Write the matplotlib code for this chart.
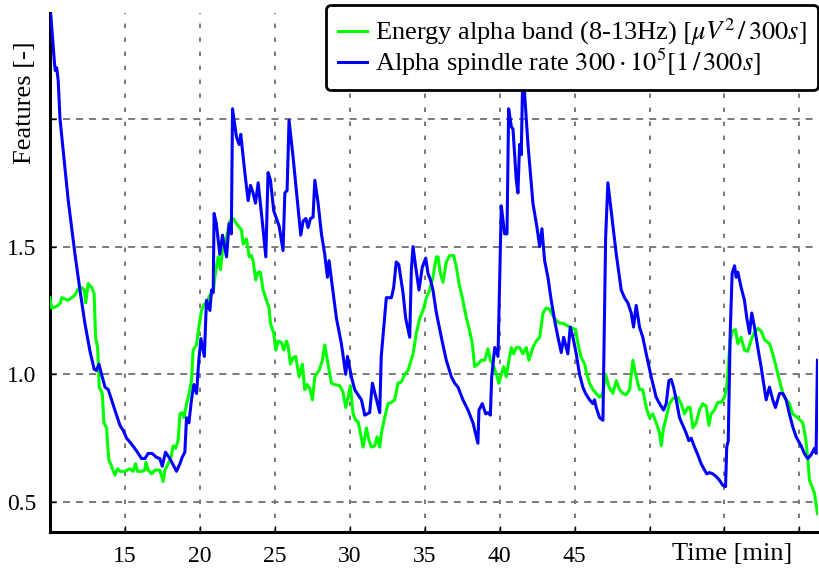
#!/usr/bin/env python3

import matplotlib
matplotlib.use("Agg")
import matplotlib.pyplot as plt

################################################################################
# Data
################################################################################

# Alpha spindle rate (blue), time in minutes
spindle_t = [
    10.0, 10.3, 10.35, 10.45, 10.55, 10.67, 11.22, 11.67, 12.0, 12.33, 12.67,
    12.95, 13.1, 13.27, 13.44, 13.67, 13.89, 14.33, 14.67, 14.89, 15.11, 15.4,
    15.78, 16.11, 16.33, 16.55, 16.82, 17.1, 17.33, 17.49, 17.71, 18.0, 18.44,
    18.67, 18.82, 19.0, 19.11, 19.27, 19.44, 19.6, 19.78, 19.93, 20.07, 20.3,
    20.44, 20.67, 20.78, 20.89, 20.95, 21.1, 21.33, 21.51, 21.78, 21.95, 22.1,
    22.18, 22.44, 22.62, 22.73, 23.0, 23.22, 23.38, 23.55, 23.71, 23.89, 24.18,
    24.4, 24.55, 24.71, 24.93, 25.11, 25.29, 25.55, 25.67, 25.82, 25.95, 26.22,
    26.55, 26.73, 26.89, 27.07, 27.22, 27.38, 27.55, 27.67, 27.89, 28.11, 28.33,
    28.51, 28.62, 28.78, 29.11, 29.44, 29.73, 29.85, 30.11, 30.33, 30.55, 30.78,
    31.0, 31.33, 31.51, 32.0, 32.1, 32.44, 32.78, 32.93, 33.1, 33.27, 33.55,
    33.73, 34.0, 34.11, 34.22, 34.4, 34.62, 34.84, 35.07, 35.22, 35.38, 35.55,
    35.78, 36.11, 36.44, 36.78, 37.0, 37.22, 37.55, 37.89, 38.22, 38.55, 38.62,
    38.84, 39.07, 39.22, 39.38, 39.47, 39.67, 39.89, 40.11, 40.33, 40.49, 40.6,
    40.78, 40.89, 41.11, 41.22, 41.33, 41.44, 41.55, 41.89, 42.22, 42.49, 42.67,
    42.82, 43.0, 43.22, 43.44, 43.67, 43.89, 44.11, 44.27, 44.55, 44.71, 44.89,
    45.11, 45.33, 45.55, 45.73, 46.0, 46.22, 46.33, 46.44, 46.67, 46.89, 47.07,
    47.22, 47.44, 47.78, 48.11, 48.33, 48.55, 48.78, 48.93, 49.11, 49.33, 49.55,
    49.78, 50.11, 50.44, 50.67, 50.93, 51.11, 51.29, 51.44, 51.6, 51.78, 52.0,
    52.22, 52.44, 52.62, 52.78, 53.0, 53.22, 53.44, 53.67, 53.82, 54.0, 54.22,
    54.44, 54.67, 54.89, 55.07, 55.15, 55.25, 55.38, 55.51, 55.67, 55.78, 55.89,
    56.11, 56.33, 56.49, 56.67, 56.82, 57.0, 57.22, 57.44, 57.78, 58.0, 58.22,
    58.4, 58.67, 58.89, 59.11, 59.33, 59.55, 59.78, 60.11, 60.33, 60.55, 60.78,
    61.0, 61.11, 61.2,
]
spindle_rate = [
    2.45, 2.22, 2.19, 2.20, 2.15, 2.0, 1.68, 1.47, 1.33, 1.20, 1.09,
    1.02, 1.015, 1.04, 1.0, 0.95, 0.94, 0.86, 0.80, 0.78, 0.75, 0.73,
    0.70, 0.67, 0.67, 0.69, 0.69, 0.675, 0.67, 0.64, 0.695, 0.67, 0.62,
    0.65, 0.675, 0.695, 0.83, 0.81, 0.90, 0.96, 0.925, 1.055, 1.14, 1.07,
    1.29, 1.25, 1.33, 1.32, 1.63, 1.59, 1.47, 1.545, 1.46, 1.59, 1.55,
    2.04, 1.93, 1.90, 1.94, 1.79, 1.68, 1.74, 1.71, 1.67, 1.75, 1.59,
    1.46, 1.79, 1.76, 1.64, 1.61, 1.58, 1.485, 1.71, 1.72, 1.995, 1.85,
    1.655, 1.545, 1.60, 1.61, 1.575, 1.61, 1.615, 1.76, 1.67, 1.55, 1.47,
    1.38, 1.445, 1.37, 1.22, 1.12, 1.0, 1.07, 0.99, 0.94, 0.92, 0.90,
    0.84, 0.85, 0.965, 0.85, 1.07, 1.30, 1.30, 1.34, 1.44, 1.43, 1.32,
    1.22, 1.145, 1.41, 1.50, 1.42, 1.33, 1.42, 1.455, 1.395, 1.37, 1.33,
    1.24, 1.145, 1.055, 0.99, 0.965, 0.95, 0.90, 0.86, 0.81, 0.73, 0.86,
    0.885, 0.845, 0.85, 0.84, 0.99, 1.105, 1.07, 1.66, 1.55, 1.55, 2.04,
    1.97, 1.96, 1.76, 1.71, 1.90, 1.86, 2.20, 1.90, 1.67, 1.575, 1.50,
    1.57, 1.445, 1.38, 1.29, 1.21, 1.145, 1.085, 1.145, 1.08, 1.185, 1.145,
    1.08, 1.0, 0.95, 0.925, 0.90, 0.885, 0.90, 0.87, 0.83, 0.82, 1.535,
    1.75, 1.64, 1.47, 1.33, 1.30, 1.28, 1.24, 1.185, 1.27, 1.185, 1.145,
    1.08, 0.99, 0.91, 0.885, 0.86, 0.885, 0.975, 0.98, 0.95, 0.90, 0.83,
    0.80, 0.77, 0.74, 0.75, 0.715, 0.685, 0.65, 0.625, 0.61, 0.615, 0.61,
    0.60, 0.585, 0.565, 0.56, 0.715, 0.74, 1.16, 1.395, 1.425, 1.38, 1.40,
    1.34, 1.29, 1.22, 1.16, 1.24, 1.185, 1.105, 1.03, 0.90, 0.95, 0.90,
    0.87, 0.925, 0.925, 0.90, 0.845, 0.795, 0.755, 0.72, 0.69, 0.67, 0.685,
    0.71, 0.69, 1.055,
]

# Energy in the alpha band (green), time in minutes
energy_t = [
    10.0, 10.1, 10.22, 10.55, 10.7, 10.78, 11.22, 11.44, 11.67, 11.89, 12.11,
    12.29, 12.38, 12.55, 12.78, 12.95, 13.04, 13.18, 13.29, 13.49, 13.6, 13.78,
    13.84, 13.93, 14.11, 14.33, 14.51, 14.67, 15.0, 15.33, 15.55, 15.71, 15.84,
    16.11, 16.33, 16.4, 16.55, 16.78, 17.0, 17.33, 17.55, 17.67, 17.89, 18.07,
    18.22, 18.38, 18.55, 18.67, 18.82, 18.95, 19.11, 19.27, 19.44, 19.55, 19.78,
    19.93, 20.11, 20.29, 20.44, 20.67, 20.89, 21.0, 21.22, 21.38, 21.51, 21.67,
    21.82, 22.0, 22.22, 22.44, 22.78, 22.89, 23.11, 23.29, 23.44, 23.55, 23.73,
    23.89, 24.04, 24.22, 24.44, 24.62, 24.71, 24.93, 25.07, 25.22, 25.44, 25.6,
    25.78, 25.89, 26.04, 26.22, 26.4, 26.62, 26.84, 27.0, 27.16, 27.33, 27.51,
    27.67, 27.95, 28.18, 28.33, 28.55, 28.78, 29.0, 29.33, 29.55, 29.73, 29.89,
    30.04, 30.22, 30.4, 30.55, 30.78, 30.89, 31.11, 31.29, 31.44, 31.67, 31.82,
    32.0, 32.11, 32.33, 32.55, 32.78, 33.0, 33.22, 33.44, 33.67, 33.89, 34.22,
    34.44, 34.67, 34.89, 35.11, 35.33, 35.55, 35.78, 35.89, 36.04, 36.22, 36.44,
    36.67, 36.93, 37.11, 37.29, 37.51, 37.78, 38.0, 38.18, 38.33, 38.55, 38.78,
    39.0, 39.22, 39.38, 39.55, 39.78, 39.95, 40.11, 40.27, 40.44, 40.62, 40.78,
    40.93, 41.11, 41.33, 41.55, 41.78, 41.95, 42.22, 42.44, 42.67, 42.89, 43.11,
    43.33, 43.55, 43.78, 44.0, 44.22, 44.67, 45.07, 45.22, 45.44, 45.67, 45.82,
    46.0, 46.22, 46.44, 46.67, 46.89, 47.07, 47.29, 47.55, 47.78, 48.0, 48.22,
    48.44, 48.67, 48.89, 49.11, 49.33, 49.55, 49.78, 50.0, 50.22, 50.44, 50.67,
    50.78, 50.93, 51.11, 51.33, 51.55, 51.89, 52.11, 52.33, 52.55, 52.71, 52.89,
    53.11, 53.33, 53.55, 53.78, 53.96, 54.11, 54.33, 54.55, 54.78, 55.0, 55.15,
    55.38, 55.55, 55.73, 55.89, 56.11, 56.33, 56.55, 56.78, 57.0, 57.22, 57.44,
    57.67, 58.0, 58.22, 58.44, 58.67, 58.89, 59.11, 59.33, 59.55, 59.89, 60.22,
    60.4, 60.55, 60.67, 61.0, 61.2,
]
energy_alpha = [
    1.30, 1.26, 1.26, 1.27, 1.28, 1.30, 1.29, 1.30, 1.31, 1.335, 1.34,
    1.33, 1.28, 1.355, 1.34, 1.315, 1.145, 1.105, 0.95, 0.925, 0.81, 0.79,
    0.73, 0.665, 0.64, 0.605, 0.63, 0.62, 0.62, 0.63, 0.62, 0.65, 0.62,
    0.62, 0.625, 0.655, 0.625, 0.61, 0.625, 0.625, 0.58, 0.625, 0.65, 0.675,
    0.72, 0.71, 0.74, 0.845, 0.85, 0.83, 0.885, 0.92, 0.975, 1.095, 1.115,
    1.185, 1.25, 1.275, 1.28, 1.31, 1.32, 1.38, 1.46, 1.41, 1.485, 1.50,
    1.55, 1.60, 1.61, 1.59, 1.565, 1.51, 1.53, 1.46, 1.465, 1.445, 1.37,
    1.40, 1.40, 1.33, 1.29, 1.26, 1.20, 1.16, 1.095, 1.13, 1.125, 1.095,
    1.13, 1.11, 1.04, 1.065, 1.07, 0.99, 1.04, 0.94, 0.96, 0.945, 0.90,
    0.99, 1.015, 1.055, 1.115, 1.04, 0.965, 0.96, 0.955, 0.93, 0.87, 0.91,
    0.955, 0.845, 0.82, 0.815, 0.75, 0.715, 0.79, 0.74, 0.715, 0.72, 0.755,
    0.715, 0.77, 0.83, 0.885, 0.89, 0.90, 0.965, 0.97, 1.0, 1.015, 1.08,
    1.16, 1.22, 1.25, 1.30, 1.33, 1.38, 1.46, 1.46, 1.395, 1.36, 1.44,
    1.465, 1.465, 1.42, 1.355, 1.30, 1.22, 1.17, 1.12, 1.03, 1.04, 1.055,
    1.055, 1.10, 1.055, 1.04, 1.0, 0.965, 1.0, 1.03, 0.99, 1.055, 1.105,
    1.08, 1.105, 1.105, 1.08, 1.105, 1.055, 1.105, 1.13, 1.145, 1.24, 1.26,
    1.255, 1.23, 1.21, 1.20, 1.20, 1.185, 1.175, 1.12, 1.065, 1.04, 1.0,
    0.965, 0.94, 0.925, 0.91, 0.925, 1.0, 0.95, 0.925, 0.975, 0.94, 0.925,
    0.92, 0.94, 1.055, 0.99, 0.94, 0.94, 0.87, 0.83, 0.845, 0.81, 0.77,
    0.72, 0.79, 0.83, 0.885, 0.905, 0.91, 0.885, 0.845, 0.87, 0.87, 0.79,
    0.81, 0.86, 0.885, 0.875, 0.80, 0.845, 0.86, 0.89, 0.89, 0.91, 0.95,
    1.135, 1.17, 1.175, 1.12, 1.145, 1.095, 1.09, 1.135, 1.165, 1.18, 1.17,
    1.135, 1.12, 1.08, 1.03, 0.975, 0.925, 0.90, 0.885, 0.845, 0.83, 0.81,
    0.755, 0.675, 0.585, 0.535, 0.455,
]

x_ticks = [15, 20, 25, 30, 35, 40, 45, 50, 55, 60]
x_tick_labels = ["15", "20", "25", "30", "35", "40", "45", "", "", ""]
y_ticks = [0.5, 1.0, 1.5, 2.0]
y_tick_labels = ["0.5", "1.0", "1.5", ""]

energy_label = r"Energy alpha band (8-13Hz) $[\mu V^2\,/\,300s]$"
spindle_label = r"Alpha spindle rate $300\cdot10^5[1\,/\,300s]$"

################################################################################
# Plot
################################################################################

def main():
    plt.rcParams["font.family"] = ["Liberation Serif", "DejaVu Serif"]
    plt.rcParams["mathtext.fontset"] = "stix"
    plt.rcParams["font.size"] = 17

    fig = plt.figure(figsize=(8.19, 5.74), dpi=100)
    ax = fig.add_axes([0.061, 0.0732, 0.938, 0.9042])

    # grid: dashed rows, dotted columns
    ax.set_axisbelow(True)
    ax.grid(True, axis="y", color="#7a7a7a", linewidth=1.4,
            linestyle=(0, (3.6, 3.1)))
    ax.grid(True, axis="x", color="#7a7a7a", linewidth=1.4,
            linestyle=(0, (2.3, 4.9)))

    ax.plot(energy_t, energy_alpha, color="#00ff00", linewidth=2.2,
            label=energy_label, zorder=3)
    ax.plot(spindle_t, spindle_rate, color="#0000ff", linewidth=2.2,
            label=spindle_label, zorder=4)

    ax.set_xlim(10, 61.25)
    ax.set_ylim(0.3825, 2.415)

    ax.set_xticks(x_ticks)
    ax.set_xticklabels(x_tick_labels)
    ax.set_yticks(y_ticks)
    ax.set_yticklabels(y_tick_labels)
    ax.tick_params(axis="both", direction="in", length=4, width=1,
                   labelsize=17)
    ax.tick_params(axis="x", pad=10)
    ax.tick_params(axis="y", pad=10)

    for side in ("top", "right"):
        ax.spines[side].set_visible(False)
    for side in ("left", "bottom"):
        ax.spines[side].set_linewidth(2.2)

    # axis labels sit at the far ends of the axes
    ax.set_xlabel("Time [min]", fontsize=19)
    ax.xaxis.set_label_coords(0.888, -0.022, transform=ax.transAxes)
    ax.xaxis.label.set_verticalalignment("top")
    ax.set_ylabel("Features [-]", fontsize=19)
    ax.yaxis.set_label_coords(-0.033, 0.827)
    ax.yaxis.label.set_verticalalignment("center")

    leg = ax.legend(loc="upper right", bbox_to_anchor=(1.0, 1.016),
                    fontsize=19, fancybox=True, framealpha=1.0,
                    edgecolor="black", handlelength=1.1, handletextpad=0.3,
                    borderpad=0.45, labelspacing=-0.05, borderaxespad=0.0)
    leg.get_frame().set_linewidth(2.0)
    leg.set_zorder(10)

    fig.savefig("out.png", dpi=100)


if __name__ == "__main__":
    main()
